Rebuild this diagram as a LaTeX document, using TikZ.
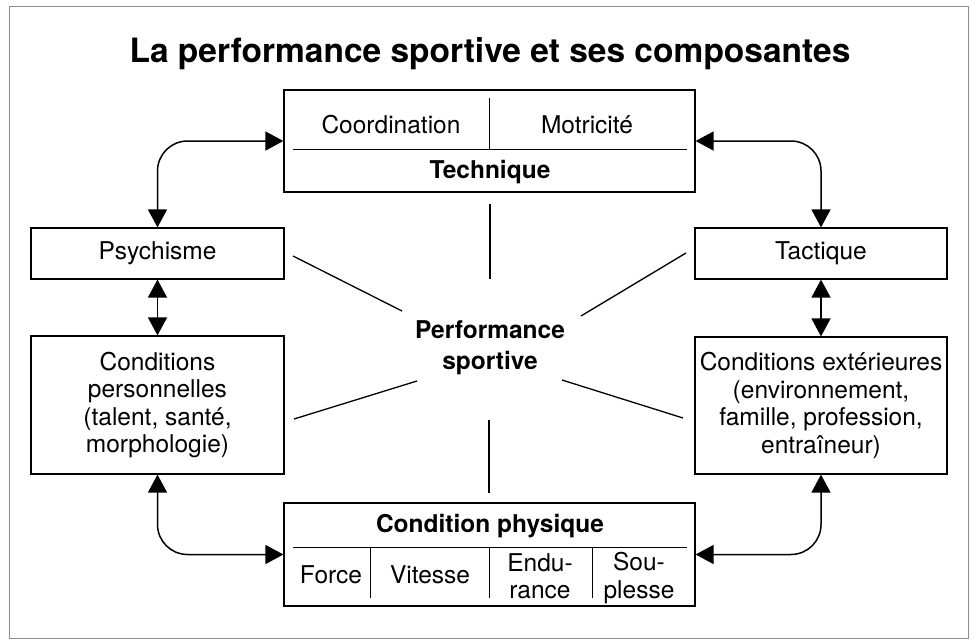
\documentclass[tikz,border=0pt]{standalone}
\usepackage{fontspec}
\setmainfont{TeX Gyre Heros}
\usetikzlibrary{arrows.meta, calc, positioning}

\tikzset{
  box/.style={draw, line width=1.2pt, inner sep=0pt, align=center},
  rule/.style={line width=1pt},
  ray/.style={line width=1.3pt},
  arr/.style={<->, line width=1.5pt, rounded corners=30pt},
  lbl/.style={inner sep=0pt, anchor=base},
  head/.style={lbl, font=\fontsize{24.5}{27.5}\selectfont\bfseries}
}

\begin{document}
\begin{tikzpicture}[x=1pt, y=-1pt, >={Triangle[width=19pt,length=18pt]},
    font=\fontsize{24.5}{27.5}\selectfont]
    \useasboundingbox (0,0) rectangle (978,640);
    \draw[black!45, line width=0.8pt] (9,6) rectangle (968,638);

    \node[lbl, font=\fontsize{33.5}{36}\selectfont\bfseries] (title) at (490,62)
      {La performance sportive et ses composantes};

    % technique
    \node[box, minimum width=411pt, minimum height=102pt] (technique) at (489.5,141) {};
    \draw[rule] (293,149) -- (687,149);
    \draw[rule] (489,98) -- (489,149);
    \node[lbl] (coordination) at (391,133) {Coordination};
    \node[lbl] (motricite) at (587,133) {Motricité};
    \node[head] (technique-lbl) at (490,178) {Technique};

    % sides
    \node[box, minimum width=253pt, minimum height=51pt] (psychisme) at (157.5,253.5) {Psychisme};
    \node[box, minimum width=252pt, minimum height=51pt] (tactique) at (821,253.5) {Tactique};
    \node[box, minimum width=253pt, minimum height=138pt] (cond-perso) at (157.5,405)
      {Conditions\\personnelles\\(talent, santé,\\morphologie)};
    \node[box, minimum width=252pt, minimum height=137pt] (cond-ext) at (821,405.5)
      {Conditions extérieures\\(environnement,\\famille, profession,\\entraîneur)};

    % condition physique
    \node[box, minimum width=411pt, minimum height=103pt] (cond-phys) at (489.5,554.5) {};
    \draw[rule] (293,547) -- (687,547);
    \foreach \x in {370,489,592}
      \draw[rule] (\x,547) -- (\x,598);
    \node[head] (cond-phys-lbl) at (490,532) {Condition physique};
    \node[lbl] (force) at (331,583) {Force};
    \node[lbl] (vitesse) at (430,583) {Vitesse};
    \node[inner sep=0pt, align=center] (endurance) at (540,576) {Endu-\\rance};
    \node[inner sep=0pt, align=center] (souplesse) at (639,578) {Sou-\\plesse};

    % centre
    \node[inner sep=0pt, align=center, font=\fontsize{24.5}{27.5}\selectfont\bfseries] (perf) at (490,348)
      {Performance\\[3.5pt]sportive};

    \coordinate (ray-n1) at (490,204);  \coordinate (ray-n2) at (490,279);
    \coordinate (ray-s1) at (489,420);  \coordinate (ray-s2) at (489,493);
    \coordinate (ray-nw1) at (293,256); \coordinate (ray-nw2) at (402,311);
    \coordinate (ray-ne1) at (686,253); \coordinate (ray-ne2) at (581,316);
    \coordinate (ray-sw1) at (294,419); \coordinate (ray-sw2) at (417,381);
    \coordinate (ray-se1) at (683,418); \coordinate (ray-se2) at (562,380);
    \foreach \r in {n,s,nw,ne,sw,se}
      \draw[ray] (ray-\r1) -- (ray-\r2);

    % arrows
    \draw[arr] (psychisme.north) |- (technique.west);
    \draw[arr] (tactique.north) |- (technique.east);
    \draw[arr] (cond-perso.south) |- (cond-phys.west);
    \draw[arr] (cond-ext.south) |- (cond-phys.east);
    \draw[arr] (psychisme) -- (cond-perso);
    \draw[arr] (tactique) -- (cond-ext);
  \end{tikzpicture}
\end{document}
